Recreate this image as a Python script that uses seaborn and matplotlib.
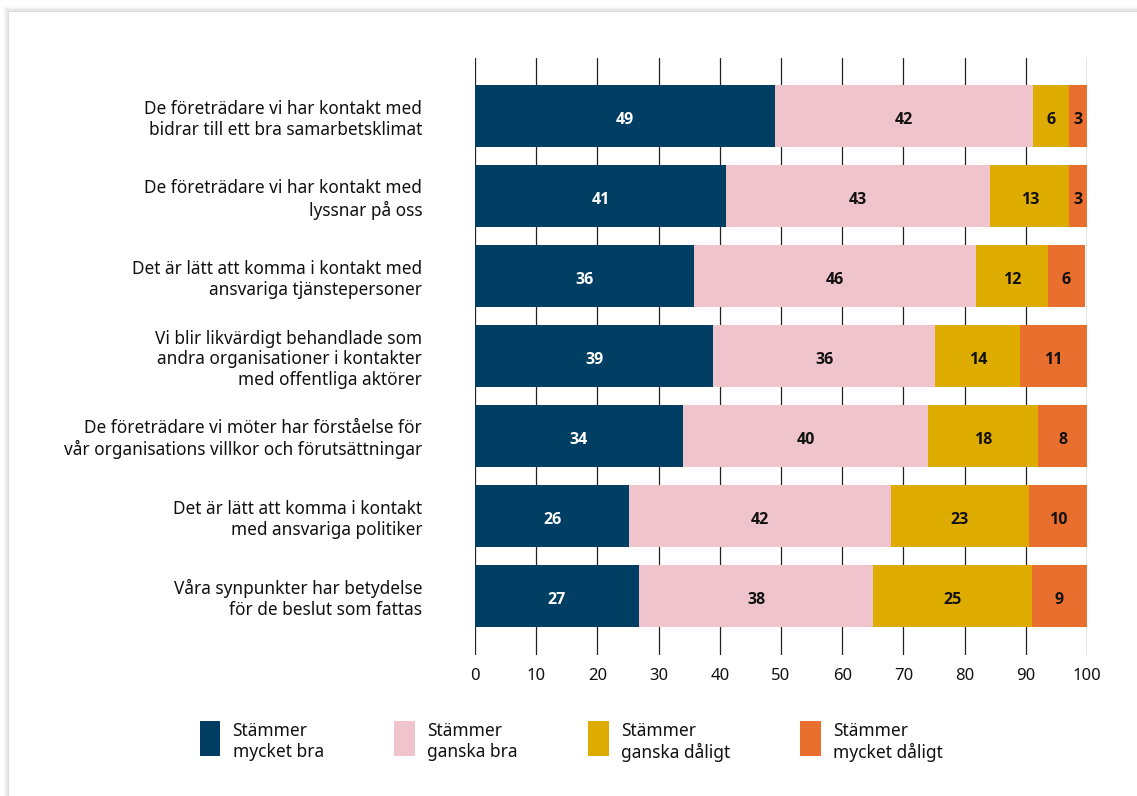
import pandas as pd
import numpy as np
import matplotlib
matplotlib.use("Agg")
import matplotlib.pyplot as plt
from matplotlib.patches import Patch, Rectangle
from matplotlib.legend_handler import HandlerPatch
import seaborn as sns

# Survey statements (y categories)
questions = [
    "De företrädare vi har kontakt med\nbidrar till ett bra samarbetsklimat",
    "De företrädare vi har kontakt med\nlyssnar på oss",
    "Det är lätt att komma i kontakt med\nansvariga tjänstepersoner",
    "Vi blir likvärdigt behandlade som\nandra organisationer i kontakter\nmed offentliga aktörer",
    "De företrädare vi möter har förståelse för\nvår organisations villkor och förutsättningar",
    "Det är lätt att komma i kontakt\nmed ansvariga politiker",
    "Våra synpunkter har betydelse\nför de beslut som fattas",
]

answers = ["Stämmer\nmycket bra", "Stämmer\nganska bra", "Stämmer\nganska dåligt", "Stämmer\nmycket dåligt"]
colors = ["#003f63", "#f0c4cc", "#deab00", "#e86f2e"]

# segment shares (percent, unrounded)
mycket_bra = [49.0, 41.0, 35.8, 38.9, 34.0, 25.2, 26.8]
ganska_bra = [42.2, 43.2, 46.1, 36.3, 40.0, 42.7, 38.3]
ganska_daligt = [5.9, 12.9, 11.7, 13.9, 18.0, 22.7, 25.9]
mycket_daligt = [2.9, 2.9, 6.1, 10.9, 8.0, 9.4, 9.0]

# printed labels
labels_mycket_bra = [49, 41, 36, 39, 34, 26, 27]
labels_ganska_bra = [42, 43, 46, 36, 40, 42, 38]
labels_ganska_daligt = [6, 13, 12, 14, 18, 23, 25]
labels_mycket_daligt = [3, 3, 6, 11, 8, 10, 9]

segments = [mycket_bra, ganska_bra, ganska_daligt, mycket_daligt]
seg_labels = [labels_mycket_bra, labels_ganska_bra, labels_ganska_daligt, labels_mycket_daligt]

df = pd.DataFrame({"question": questions})
for name, vals in zip(answers, segments):
    df[name] = vals
cum = df[answers].cumsum(axis=1)

sns.set_theme(style="white")
plt.rcParams["font.family"] = ["Noto Sans", "DejaVu Sans"]

fig = plt.figure(figsize=(11.37, 7.96), dpi=100)
fig.patch.set_facecolor("white")

# card with soft shadow
for i, a in enumerate([0.025, 0.03, 0.04, 0.05]):
    off = (4 - i) * 1.5
    fig.patches.append(Rectangle(((9 - off) / 1137, 0), 1.1, (784 + off) / 796,
                                 transform=fig.transFigure, facecolor="#000000",
                                 alpha=a, edgecolor="none", zorder=-20))
fig.patches.append(Rectangle((9 / 1137, 0), 1.1, 784 / 796, transform=fig.transFigure,
                             facecolor="white", edgecolor="none", zorder=-10))

ax = fig.add_axes([475 / 1137, 1 - 655 / 796, 612 / 1137, 597 / 796])
ax.set_facecolor("none")

# stacked bars: draw cumulative totals from longest to shortest
for k in range(len(answers) - 1, -1, -1):
    sns.barplot(x=cum[answers[k]], y=df["question"], color=colors[k], orient="h",
                width=0.775, saturation=1, linewidth=0, ax=ax, zorder=3)

# segment labels
for k in range(len(answers)):
    starts = cum[answers[k]] - df[answers[k]]
    for i, (s, w, lab) in enumerate(zip(starts, df[answers[k]], seg_labels[k])):
        ax.text(s + w / 2, i + 0.025, str(lab), ha="center", va="center_baseline",
                fontsize=11.5, fontweight="bold", family=["Open Sans", "DejaVu Sans"],
                color="white" if k == 0 else "#111111", zorder=5)

ax.set_xlim(0, 100)
ax.set_ylim(6.74, -0.725)
ax.set_xticks(np.arange(0, 101, 10))
ax.xaxis.grid(True, color="#222222", linewidth=0.9)
ax.set_axisbelow(True)
for sp in ax.spines.values():
    sp.set_visible(False)
ax.tick_params(axis="x", length=0, pad=9, labelsize=12, labelcolor="#111111")
ax.tick_params(axis="y", length=0, pad=38, labelsize=12.4, labelcolor="#111111")
ax.set_xlabel("")
ax.set_ylabel("")


def raised_box(legend, orig_handle, xdescent, ydescent, width, height, fontsize):
    # legend swatch sits a little higher than the text block centre
    return Rectangle((-xdescent, -ydescent + 3.5), width, height)


handles = [Patch(facecolor=c, edgecolor="none") for c in colors]
fig.legend(handles, answers, loc="upper left", bbox_to_anchor=(184 / 1137, 1 - 706 / 796),
           ncol=4, frameon=False, fontsize=12.5, handlelength=1.2, handleheight=2.7,
           handletextpad=0.7, columnspacing=4.05, labelcolor="#111111",
           handler_map={Patch: HandlerPatch(patch_func=raised_box)})

fig.savefig("out.png", dpi=100)
